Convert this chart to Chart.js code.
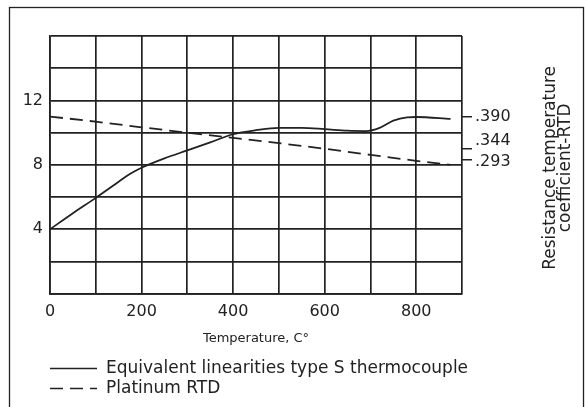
<!DOCTYPE html>
<html>
<head>
<meta charset="utf-8">
<script src="https://cdn.jsdelivr.net/npm/chart.js@4"></script>
<style>
  html, body { margin: 0; padding: 0; background: #fff; }
  #wrap { width: 586px; height: 407px; }
</style>
</head>
<body>
<div id="wrap"><canvas id="linearity"></canvas></div>
<script>
// type S thermocouple, equivalent linearity
const tcTemps = [0, 50, 100, 140, 150, 170, 185, 200, 250, 300, 350, 400, 450, 500, 550, 600, 650, 690, 720, 750, 780, 800, 875];
const tcValues = [4.0, 5.0, 5.95, 6.75, 6.95, 7.35, 7.6, 7.82, 8.4, 8.9, 9.4, 9.9, 10.15, 10.3, 10.3, 10.22, 10.12, 10.1, 10.3, 10.75, 10.95, 10.97, 10.85];

// platinum RTD
const rtdTemps = [0, 100, 200, 300, 400, 500, 600, 700, 800, 875];
const rtdValues = [11.0, 10.68, 10.33, 10.0, 9.68, 9.35, 9.0, 8.62, 8.25, 8.0];

// resistance temperature coefficient marks on the right side
const coefMarks = [11.0, 9.0, 8.3];
const coefLabels = ['.390', '.344', '.293'];

const seriesNames = ['Equivalent linearities type S thermocouple', 'Platinum RTD'];
const yLabelled = [4, 8, 12];
const xLabelled = [0, 200, 400, 600, 800];

const ink = '#222';
const fontFam = '"DejaVu Sans", sans-serif';

Chart.defaults.font.family = fontFam;
Chart.defaults.color = ink;

const toPoints = (xs, ys) => xs.map((x, i) => ({ x: x, y: ys[i] }));

// frame, coefficient labels, right-hand title and the stacked legend
const extras = {
  id: 'extras',
  afterDraw(chart) {
    const ctx = chart.ctx;
    const area = chart.chartArea;
    const y = chart.scales.y;
    ctx.save();
    ctx.strokeStyle = ink;
    ctx.lineWidth = 1.3;
    ctx.strokeRect(9.5, 7.5, 574, 430);

    ctx.fillStyle = ink;
    ctx.font = '16px ' + fontFam;
    ctx.textAlign = 'left';
    ctx.textBaseline = 'middle';
    const nudge = [0, -8, 2];
    coefLabels.forEach((t, i) => {
      ctx.fillText(t, area.right + 13, y.getPixelForValue(coefMarks[i]) + nudge[i]);
    });

    // legend: one row per dataset, left edge lined up with the plot
    ctx.font = '17px ' + fontFam;
    chart.data.datasets.forEach((ds, i) => {
      const ly = 368.5 + i * 20;
      ctx.lineWidth = 1.5;
      ctx.setLineDash(ds.borderDash || []);
      ctx.beginPath();
      ctx.moveTo(area.left, ly);
      ctx.lineTo(area.left + 47, ly);
      ctx.stroke();
      ctx.setLineDash([]);
      ctx.fillText(ds.label, area.left + 56, ly);
    });

    ctx.textAlign = 'center';
    ctx.textBaseline = 'alphabetic';
    ctx.translate(555, (area.top + area.bottom) / 2 + 3);
    ctx.rotate(-Math.PI / 2);
    ctx.fillText('Resistance temperature', 0, 0);
    ctx.fillText('coefficient-RTD', 0, 15);
    ctx.restore();
  }
};

new Chart(document.getElementById('linearity'), {
  type: 'line',
  data: {
    datasets: [
      {
        label: seriesNames[0],
        data: toPoints(tcTemps, tcValues),
        borderColor: ink,
        borderWidth: 1.8,
        pointRadius: 0,
        cubicInterpolationMode: 'monotone'
      },
      {
        label: seriesNames[1],
        data: toPoints(rtdTemps, rtdValues),
        borderColor: ink,
        borderWidth: 1.8,
        borderDash: [13, 7],
        pointRadius: 0,
        tension: 0
      }
    ]
  },
  options: {
    responsive: true,
    maintainAspectRatio: false,
    animation: false,
    layout: { padding: { top: 36, left: 0, right: 0, bottom: 50 } },
    plugins: {
      tooltip: { enabled: false },
      legend: { display: false }
    },
    scales: {
      x: {
        type: 'linear',
        min: 0,
        max: 900,
        grid: { color: ink, lineWidth: 1.7, drawTicks: false },
        border: { color: ink, width: 1.7 },
        ticks: {
          stepSize: 100,
          padding: 9,
          font: { size: 16 },
          callback: v => (xLabelled.includes(v) ? v : '')
        },
        title: {
          display: true,
          text: 'Temperature, C°',
          font: { size: 13 },
          padding: { top: 0, bottom: 10.5 }
        }
      },
      y: {
        min: 0,
        max: 16,
        grid: { color: ink, lineWidth: 1.7, drawTicks: false },
        border: { color: ink, width: 1.7 },
        ticks: {
          stepSize: 2,
          padding: 7,
          font: { size: 16 },
          callback: v => (yLabelled.includes(v) ? v : '')
        },
        afterFit: s => { s.width = 50; }
      },
      y2: {
        position: 'right',
        min: 0,
        max: 16,
        grid: { color: ink, lineWidth: 1.5, drawOnChartArea: false, tickLength: 10 },
        border: { display: false },
        ticks: { display: false },
        afterBuildTicks: s => { s.ticks = coefMarks.map(v => ({ value: v })); },
        afterFit: s => { s.width = 124; }
      }
    }
  },
  plugins: [extras]
});
</script>
</body>
</html>
